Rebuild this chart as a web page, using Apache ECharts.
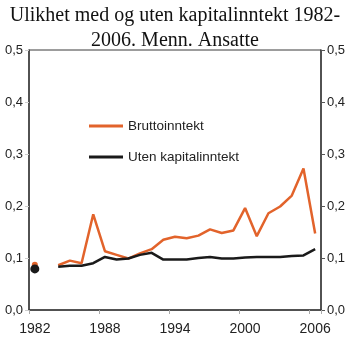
<!DOCTYPE html>
<html><head><meta charset="utf-8">
<script src="https://cdn.jsdelivr.net/npm/echarts@6/dist/echarts.min.js"></script>
<style>html,body{margin:0;padding:0;background:#fff}#c{width:350px;height:339px}</style>
</head><body><div id="c"></div>
<script>
var years = ['1982','1983','1984','1985','1986','1987','1988','1989','1990','1991','1992','1993','1994','1995','1996','1997','1998','1999','2000','2001','2002','2003','2004','2005','2006'];
var brutto = [0.087, null, 0.086, 0.095, 0.090, 0.184, 0.113, 0.106, 0.099, 0.109, 0.117, 0.135, 0.141, 0.138, 0.143, 0.155, 0.148, 0.153, 0.196, 0.142, 0.186, 0.199, 0.220, 0.272, 0.147];
var utenKap = [0.079, null, 0.083, 0.085, 0.085, 0.090, 0.102, 0.097, 0.099, 0.106, 0.110, 0.097, 0.097, 0.097, 0.100, 0.102, 0.099, 0.099, 0.101, 0.102, 0.102, 0.102, 0.104, 0.105, 0.117];
var yTicks = ['0,0','0,1','0,2','0,3','0,4','0,5'];
var seriesNames = ['Bruttoinntekt','Uten kapitalinntekt'];

var chart = echarts.init(document.getElementById('c'));
function yAx(pos, tickColor) {
  return {
    type: 'value', position: pos, min: 0, max: 0.5, interval: 0.1,
    axisLine: {show: true, lineStyle: {color: '#3a3a3a', width: 1.5}},
    axisTick: {show: true, length: 4, lineStyle: {color: tickColor}},
    splitLine: {show: false},
    axisLabel: {margin: 6, fontSize: 13, color: '#222', fontFamily: 'Liberation Sans, Arial',
      formatter: function (v) { return yTicks[Math.round(v * 10)]; }}
  };
}
chart.setOption({
  animation: false,
  title: {
    text: 'Ulikhet med og uten kapitalinntekt 1982-\n2006. Menn. Ansatte',
    left: 'center', top: -2,
    textStyle: {fontFamily: 'Liberation Serif, Times New Roman, serif', fontWeight: 'normal', fontSize: 20, lineHeight: 25, color: '#111'}
  },
  grid: {left: 29, right: 29, top: 50, bottom: 29, show: true, borderColor: '#3a3a3a', borderWidth: 1},
  legend: {
    orient: 'vertical', left: 84, top: 114, itemWidth: 34, itemHeight: 3, itemGap: 17,
    icon: 'rect', data: seriesNames,
    textStyle: {fontSize: 13.5, color: '#222', fontFamily: 'Liberation Sans, Arial'}
  },
  xAxis: {
    type: 'category', data: years, boundaryGap: true,
    axisLine: {lineStyle: {color: '#3a3a3a', width: 1.5}},
    axisTick: {show: true, interval: 5, length: 4, lineStyle: {color: '#aaa'}},
    axisLabel: {interval: 5, margin: 12, fontSize: 14, color: '#222', fontFamily: 'Liberation Sans, Arial'}
  },
  yAxis: [yAx('left', '#ccc'), yAx('right', '#555')],
  series: [
    {name: seriesNames[0], type: 'line', data: brutto, connectNulls: false,
     symbol: 'circle', symbolSize: function (v, p) { return p.dataIndex === 0 ? 6 : 0; },
     itemStyle: {color: '#e2632b'}, lineStyle: {color: '#e2632b', width: 2.5}},
    {name: seriesNames[1], type: 'line', data: utenKap, connectNulls: false,
     symbol: 'circle', symbolSize: function (v, p) { return p.dataIndex === 0 ? 9 : 0; },
     itemStyle: {color: '#1a1a1a'}, lineStyle: {color: '#1a1a1a', width: 2.5}}
  ]
});
</script></body></html>
